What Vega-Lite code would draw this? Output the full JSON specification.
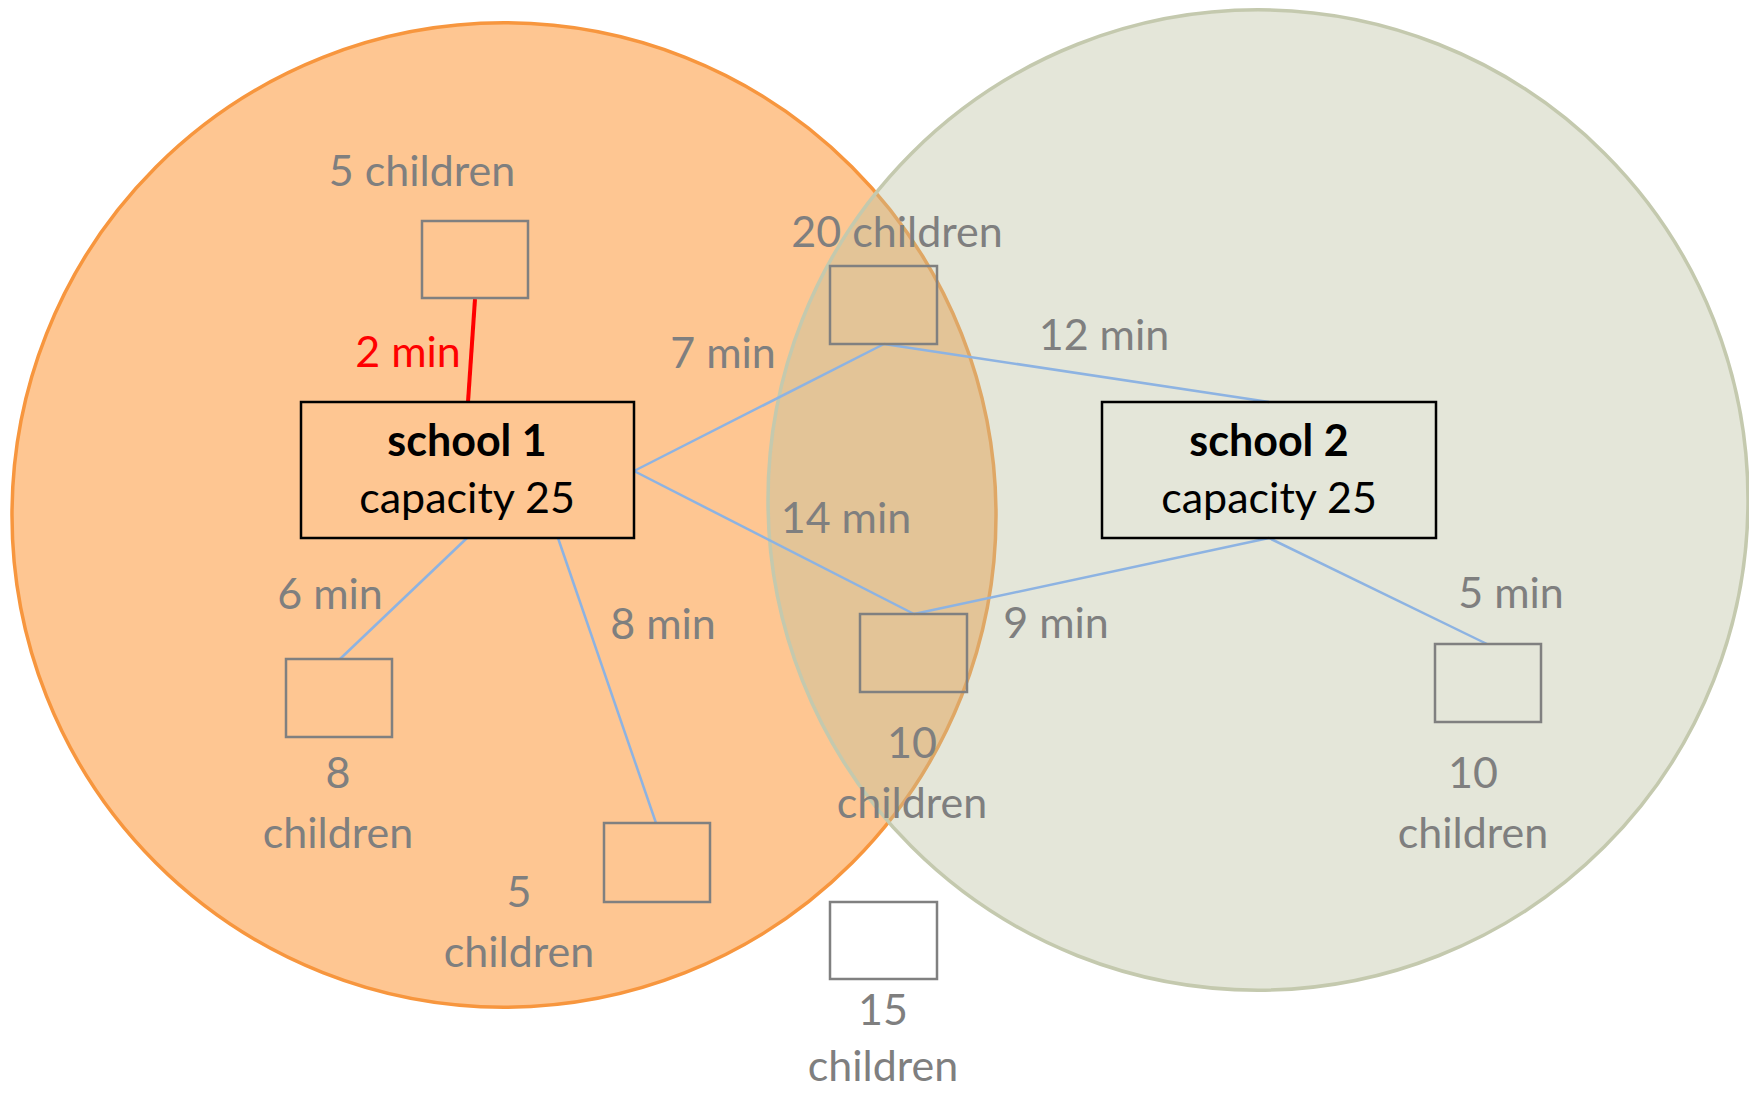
{
  "$schema": "https://vega.github.io/schema/vega-lite/v6.json",
  "width": 1749,
  "height": 1093,
  "autosize": {"type": "none"},
  "padding": 0,
  "background": "white",
  "config": {"view": {"stroke": null}, "axis": null},
  "datasets": {
    "areas": [
      {"school": "school 1", "cx": 504, "cy": 515},
      {"school": "school 2", "cx": 1258, "cy": 500}
    ],
    "blueLinks": [
      {"link": "7 min", "x": 634, "y": 471, "x2": 884, "y2": 344},
      {"link": "12 min", "x": 884, "y": 344, "x2": 1269, "y2": 402},
      {"link": "14 min", "x": 634, "y": 471, "x2": 914, "y2": 614},
      {"link": "9 min", "x": 1269, "y": 538, "x2": 914, "y2": 614},
      {"link": "5 min", "x": 1269, "y": 538, "x2": 1487, "y2": 644},
      {"link": "6 min", "x": 467, "y": 538, "x2": 340, "y2": 659},
      {"link": "8 min", "x": 558, "y": 538, "x2": 656, "y2": 823}
    ],
    "redLinks": [
      {"link": "2 min", "x": 475, "y": 299, "x2": 468, "y2": 402}
    ],
    "homes": [
      {"children": 5, "x1": 422, "x2": 528, "y1": 221, "y2": 298},
      {"children": 20, "x1": 830, "x2": 937, "y1": 266, "y2": 344},
      {"children": 8, "x1": 286, "x2": 392, "y1": 659, "y2": 737},
      {"children": 5, "x1": 604, "x2": 710, "y1": 823, "y2": 902},
      {"children": 10, "x1": 860, "x2": 967, "y1": 614, "y2": 692},
      {"children": 10, "x1": 1435, "x2": 1541, "y1": 644, "y2": 722},
      {"children": 15, "x1": 830, "x2": 937, "y1": 902, "y2": 979}
    ],
    "schools": [
      {"school": "school 1", "x1": 301, "x2": 634, "y1": 402, "y2": 538},
      {"school": "school 2", "x1": 1102, "x2": 1436, "y1": 402, "y2": 538}
    ],
    "grayLabels": [
      {"label": "5 children", "x": 422, "y": 173},
      {"label": "20 children", "x": 897, "y": 234},
      {"label": "7 min", "x": 723, "y": 355},
      {"label": "12 min", "x": 1104, "y": 337},
      {"label": "14 min", "x": 846, "y": 520},
      {"label": "6 min", "x": 330, "y": 596},
      {"label": "8 min", "x": 663, "y": 626},
      {"label": "9 min", "x": 1056, "y": 625},
      {"label": "5 min", "x": 1511, "y": 595},
      {"label": "8", "x": 338, "y": 775},
      {"label": "children", "x": 338, "y": 835},
      {"label": "5", "x": 519, "y": 894},
      {"label": "children", "x": 519, "y": 954},
      {"label": "10", "x": 912, "y": 745},
      {"label": "children", "x": 912, "y": 805},
      {"label": "10", "x": 1473, "y": 775},
      {"label": "children", "x": 1473, "y": 835},
      {"label": "15", "x": 883, "y": 1012},
      {"label": "children", "x": 883, "y": 1068}
    ],
    "redLabels": [
      {"label": "2 min", "x": 408, "y": 354}
    ],
    "schoolNames": [
      {"label": "school 1", "x": 467, "y": 443},
      {"label": "school 2", "x": 1269, "y": 443}
    ],
    "schoolCaps": [
      {"label": "capacity 25", "x": 467, "y": 500},
      {"label": "capacity 25", "x": 1269, "y": 500}
    ]
  },
  "layer": [
    {
      "data": {"name": "areas"},
      "transform": [{"filter": "datum.school === 'school 1'"}],
      "mark": {"type": "point", "shape": "circle", "filled": true, "size": 968256, "fill": "#FEC692", "fillOpacity": 1, "stroke": "#F7963E", "strokeWidth": 3.5, "opacity": 1},
      "encoding": {
        "x": {"field": "cx", "type": "quantitative", "scale": {"domain": [0, 1749], "nice": false, "zero": false}, "axis": null},
        "y": {"field": "cy", "type": "quantitative", "scale": {"domain": [0, 1093], "reverse": true, "nice": false, "zero": false}, "axis": null}
      }
    },
    {
      "data": {"name": "areas"},
      "transform": [{"filter": "datum.school === 'school 2'"}],
      "mark": {"type": "point", "shape": "circle", "filled": true, "size": 960400, "fill": "#BBC0A0", "fillOpacity": 0.4, "stroke": "#C4C9AE", "strokeWidth": 3.5, "strokeOpacity": 1, "opacity": 1},
      "encoding": {
        "x": {"field": "cx", "type": "quantitative", "scale": {"domain": [0, 1749], "nice": false, "zero": false}, "axis": null},
        "y": {"field": "cy", "type": "quantitative", "scale": {"domain": [0, 1093], "reverse": true, "nice": false, "zero": false}, "axis": null}
      }
    },
    {
      "data": {"name": "blueLinks"},
      "mark": {"type": "rule", "stroke": "#8DB3E2", "strokeWidth": 2.5},
      "encoding": {
        "x": {"field": "x", "type": "quantitative"},
        "y": {"field": "y", "type": "quantitative"},
        "x2": {"field": "x2"},
        "y2": {"field": "y2"}
      }
    },
    {
      "data": {"name": "redLinks"},
      "mark": {"type": "rule", "stroke": "#FF0000", "strokeWidth": 4},
      "encoding": {
        "x": {"field": "x", "type": "quantitative"},
        "y": {"field": "y", "type": "quantitative"},
        "x2": {"field": "x2"},
        "y2": {"field": "y2"}
      }
    },
    {
      "data": {"name": "homes"},
      "mark": {"type": "rect", "fill": null, "fillOpacity": 0, "stroke": "#808080", "strokeWidth": 2.5},
      "encoding": {
        "x": {"field": "x1", "type": "quantitative"},
        "x2": {"field": "x2"},
        "y": {"field": "y1", "type": "quantitative"},
        "y2": {"field": "y2"}
      }
    },
    {
      "data": {"name": "schools"},
      "mark": {"type": "rect", "fill": null, "fillOpacity": 0, "stroke": "#000000", "strokeWidth": 2.5},
      "encoding": {
        "x": {"field": "x1", "type": "quantitative"},
        "x2": {"field": "x2"},
        "y": {"field": "y1", "type": "quantitative"},
        "y2": {"field": "y2"}
      }
    },
    {
      "data": {"name": "grayLabels"},
      "mark": {"type": "text", "font": "Lato", "fontSize": 43, "color": "#7F7F7F", "align": "center", "baseline": "middle"},
      "encoding": {
        "x": {"field": "x", "type": "quantitative"},
        "y": {"field": "y", "type": "quantitative"},
        "text": {"field": "label"}
      }
    },
    {
      "data": {"name": "redLabels"},
      "mark": {"type": "text", "font": "Lato", "fontSize": 43, "color": "#FF0000", "align": "center", "baseline": "middle"},
      "encoding": {
        "x": {"field": "x", "type": "quantitative"},
        "y": {"field": "y", "type": "quantitative"},
        "text": {"field": "label"}
      }
    },
    {
      "data": {"name": "schoolNames"},
      "mark": {"type": "text", "font": "Lato", "fontSize": 43, "fontWeight": "bold", "color": "#000000", "align": "center", "baseline": "middle"},
      "encoding": {
        "x": {"field": "x", "type": "quantitative"},
        "y": {"field": "y", "type": "quantitative"},
        "text": {"field": "label"}
      }
    },
    {
      "data": {"name": "schoolCaps"},
      "mark": {"type": "text", "font": "Lato", "fontSize": 43, "color": "#000000", "align": "center", "baseline": "middle"},
      "encoding": {
        "x": {"field": "x", "type": "quantitative"},
        "y": {"field": "y", "type": "quantitative"},
        "text": {"field": "label"}
      }
    }
  ]
}
